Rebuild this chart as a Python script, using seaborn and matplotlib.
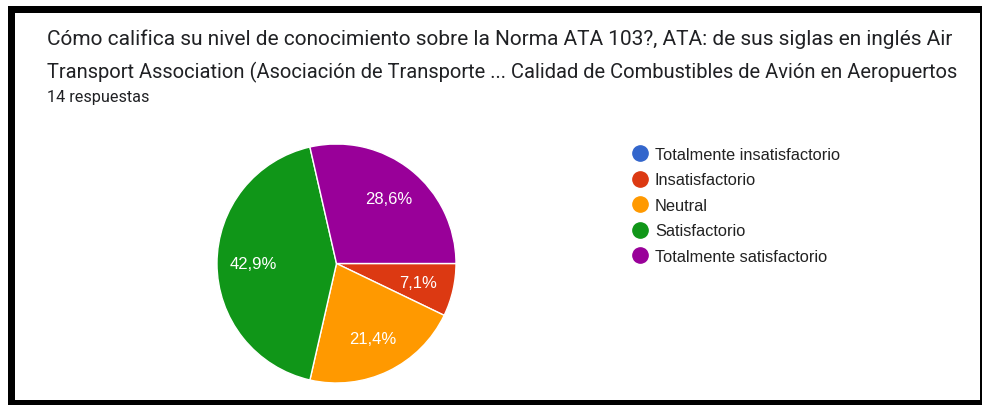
import matplotlib
matplotlib.use("Agg")
import matplotlib.pyplot as plt
from matplotlib.lines import Line2D
from matplotlib.patches import Rectangle
import seaborn as sns

# data
categorias = ["Totalmente insatisfactorio", "Insatisfactorio", "Neutral",
              "Satisfactorio", "Totalmente satisfactorio"]
respuestas = [0, 1, 3, 6, 4]
colores = ["#3366cc", "#dc3912", "#ff9900", "#109618", "#990099"]
titulo_1 = "Cómo califica su nivel de conocimiento sobre la Norma ATA 103?, ATA: de sus siglas en inglés Air"
titulo_2 = "Transport Association (Asociación de Transporte ... Calidad de Combustibles de Avión en Aeropuertos"
subtitulo = "14 respuestas"

W, H = 982, 406


def fx(px):
    return px / W


def fy(py):
    return 1 - py / H


def pct_label(p):
    if p < 0.5:
        return ""
    return f"{p:.1f}".replace(".", ",") + "%"


def main():
    sns.set_theme(style="white")
    plt.rcParams["font.family"] = ["Roboto", "DejaVu Sans"]

    fig = plt.figure(figsize=(W / 100, H / 100), dpi=100)
    fig.patch.set_facecolor("white")

    # pie, placed so the circle sits where it does in the reference
    cx, cy, r = 336.5, 264.5, 119.5
    ax = fig.add_axes([fx(cx - r), fy(cy + r), (2 * r) / W, (2 * r) / H])
    wedges, _, autotexts = ax.pie(
        respuestas, colors=colores, startangle=0, counterclock=False,
        autopct=pct_label, pctdistance=0.7,
        wedgeprops=dict(edgecolor="white", linewidth=1),
        textprops=dict(color="white", fontsize=12, family="Liberation Sans"),
    )
    ax.set_xlim(-1, 1)
    ax.set_ylim(-1, 1)
    ax.axis("off")

    # title block
    fig.text(fx(47), fy(45), titulo_1, fontsize=15, color="#202124", va="baseline")
    fig.text(fx(47), fy(78), titulo_2, fontsize=14.5, color="#202124", va="baseline")
    fig.text(fx(47), fy(102), subtitulo, fontsize=11.7, color="#202124", va="baseline")

    # legend
    handles = [Line2D([], [], marker="o", linestyle="", markersize=11,
                      markerfacecolor=c, markeredgecolor=c) for c in colores]
    fig.legend(handles, categorias, loc="upper left",
               bbox_to_anchor=(fx(632), fy(148)), frameon=False,
               prop=dict(family="Liberation Sans", size=11.8),
               labelcolor="#222222", handlelength=1.0, handletextpad=0.4,
               labelspacing=0.64, borderpad=0, borderaxespad=0)

    # black frame of the screenshot
    fig.add_artist(Rectangle((fx(8), 0), 7 / W, fy(7), transform=fig.transFigure,
                             color="black", lw=0))
    fig.add_artist(Rectangle((fx(8), fy(14)), 1 - fx(8), 7 / H, transform=fig.transFigure,
                             color="black", lw=0))
    fig.add_artist(Rectangle((fx(8), 0), 1 - fx(8), 5 / H, transform=fig.transFigure,
                             color="black", lw=0))
    fig.add_artist(Rectangle((fx(980), 0), 2 / W, fy(7), transform=fig.transFigure,
                             color="black", lw=0))

    fig.savefig("out.png", dpi=100)


if __name__ == "__main__":
    main()
